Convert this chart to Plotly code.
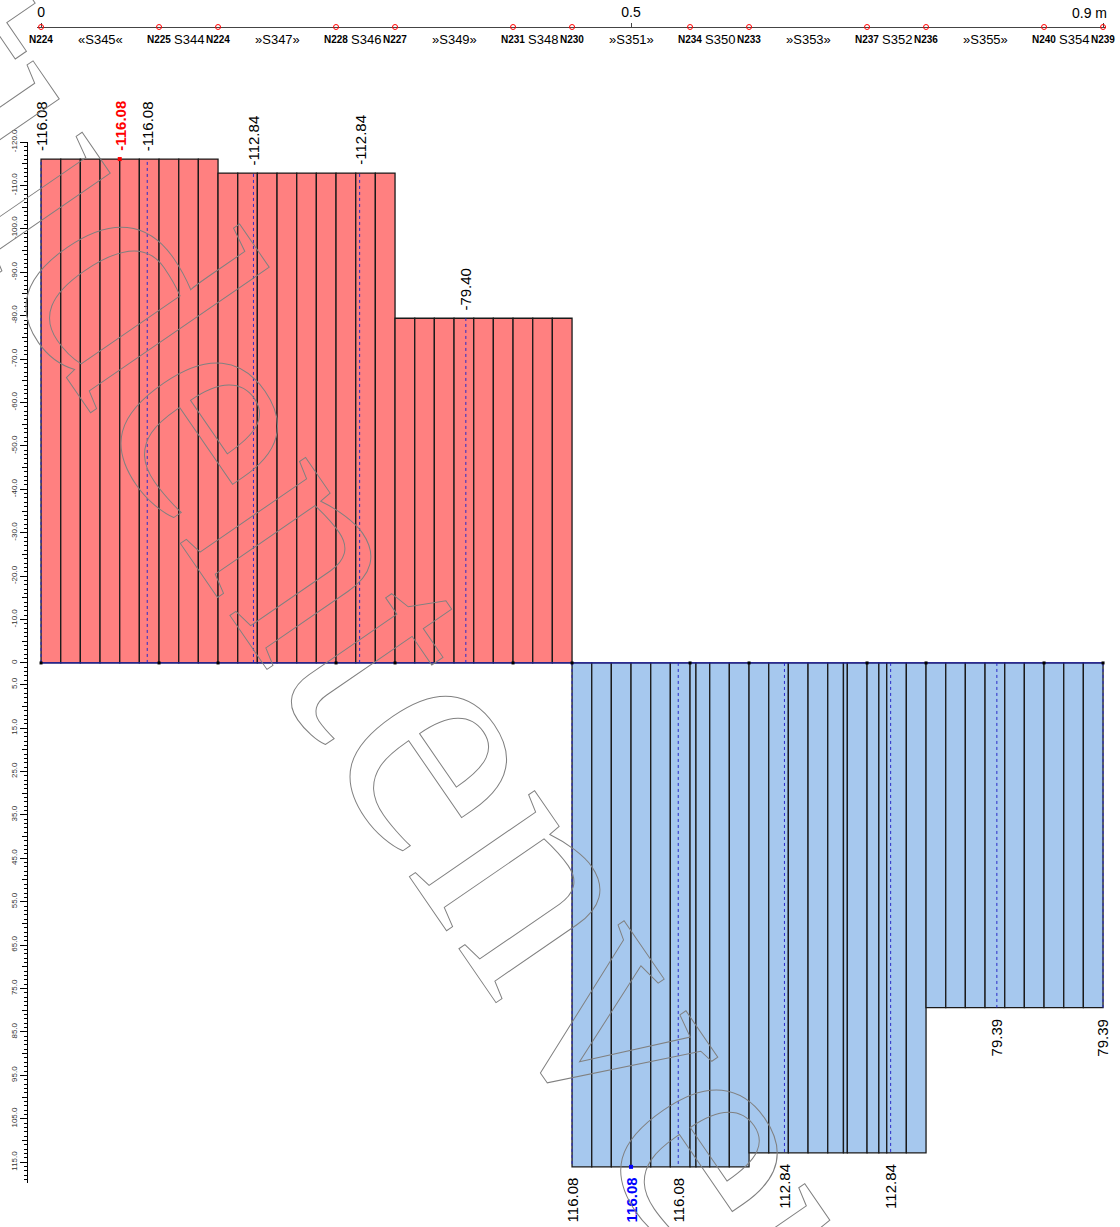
import plotly.graph_objects as go

# ---------- data ----------

# nodes along the member (m) and their names
node_x = [0, 0.10, 0.15, 0.25, 0.30, 0.40, 0.45, 0.55, 0.60, 0.70, 0.75, 0.85, 0.90]
node_names = ["N224", "N225", "N224", "N228", "N227", "N231", "N230",
              "N234", "N233", "N237", "N236", "N240", "N239"]

# member segments between the nodes
seg_mid = [0.05, 0.125, 0.2, 0.275, 0.35, 0.425, 0.5, 0.575, 0.65, 0.725, 0.8, 0.875]
seg_names = ["«S345«", "S344", "»S347»", "S346", "»S349»", "S348",
             "»S351»", "S350", "»S353»", "S352", "»S355»", "S354"]

# result strips (edges in m) and their values
strip_edges = [0, 0.0167, 0.0333, 0.05, 0.0667, 0.0833, 0.10, 0.1167, 0.1333, 0.15,
               0.1667, 0.1833, 0.20, 0.2167, 0.2333, 0.25, 0.2667, 0.2833, 0.30,
               0.3167, 0.3333, 0.35, 0.3667, 0.3833, 0.40, 0.4167, 0.4333, 0.45,
               0.4667, 0.4833, 0.50, 0.5167, 0.5333, 0.55, 0.555, 0.5667, 0.5833, 0.60,
               0.6167, 0.6333, 0.65, 0.6667, 0.68, 0.6833, 0.70, 0.71, 0.7167, 0.7333, 0.75,
               0.7667, 0.7833, 0.80, 0.8167, 0.8333, 0.85, 0.8667, 0.8833, 0.90]
strip_vals = [-116.08, -116.08, -116.08, -116.08, -116.08, -116.08, -116.08, -116.08, -116.08,
              -112.84, -112.84, -112.84, -112.84, -112.84, -112.84, -112.84, -112.84, -112.84,
              -79.40, -79.40, -79.40, -79.40, -79.40, -79.40, -79.40, -79.40, -79.40,
              116.08, 116.08, 116.08, 116.08, 116.08, 116.08, 116.08, 116.08, 116.08, 116.08,
              112.84, 112.84, 112.84, 112.84, 112.84, 112.84, 112.84, 112.84, 112.84, 112.84,
              112.84,
              79.39, 79.39, 79.39, 79.39, 79.39, 79.39, 79.39, 79.39, 79.39]

# labelled result points
res_x = [0, 0.09, 0.18, 0.27, 0.36, 0.45, 0.54, 0.63, 0.72, 0.81, 0.90]
res_v = [-116.08, -116.08, -112.84, -112.84, -79.40, 116.08, 116.08, 112.84, 112.84, 79.39, 79.39]

# extremes
min_x, min_v = 0.0667, -116.08
max_x, max_v = 0.50, 116.08

# left scale
ytick_vals = [-120, -110, -100, -90, -80, -70, -60, -50, -40, -30, -20, -10, 0,
              5, 15, 25, 35, 45, 55, 65, 75, 85, 95, 105, 115]
ytick_text = ["-120.0", "-110.0", "-100.0", "-90.0", "-80.0", "-70.0", "-60.0", "-50.0",
              "-40.0", "-30.0", "-20.0", "-10.0", "0", "5.0", "15.0", "25.0", "35.0",
              "45.0", "55.0", "65.0", "75.0", "85.0", "95.0", "105.0", "115.0"]
ytick_mid = [-115, -105, -95, -85, -75, -65, -55, -45, -35, -25, -15, -5,
             10, 20, 30, 40, 50, 60, 70, 80, 90, 100, 110]

watermark = "Studentenversion"

RED = "#FF8080"
BLUE = "#A6C8EE"
FONT = "Liberation Sans, Arial, sans-serif"

# ---------- figure ----------

centers = [(a + b) / 2 for a, b in zip(strip_edges[:-1], strip_edges[1:])]
widths = [b - a for a, b in zip(strip_edges[:-1], strip_edges[1:])]
colors = [RED if v < 0 else BLUE for v in strip_vals]

fig = go.Figure()

fig.add_trace(go.Bar(x=centers, y=strip_vals, width=widths,
                     marker=dict(color=colors, line=dict(color="#1a1a1a", width=1.3)),
                     hoverinfo="skip"))

# dotted lines at the result points
dx, dy = [], []
for x, v in zip(res_x, res_v):
    dx += [x, x, None]
    dy += [0, v, None]
fig.add_trace(go.Scatter(x=dx, y=dy, mode="lines",
                         line=dict(color="#2a2ac8", width=1, dash="dot"),
                         hoverinfo="skip"))

# base line with node dots
fig.add_trace(go.Scatter(x=[node_x[0], node_x[-1]], y=[0, 0], mode="lines",
                         line=dict(color="#1f1fa8", width=1.3), hoverinfo="skip"))
fig.add_trace(go.Scatter(x=node_x, y=[0] * len(node_x), mode="markers",
                         marker=dict(symbol="square", size=3, color="black"),
                         hoverinfo="skip", cliponaxis=False))

# extreme dots
fig.add_trace(go.Scatter(x=[min_x], y=[min_v], mode="markers",
                         marker=dict(symbol="square", size=4, color="red"),
                         hoverinfo="skip", cliponaxis=False))
fig.add_trace(go.Scatter(x=[max_x], y=[max_v], mode="markers",
                         marker=dict(symbol="square", size=4, color="blue"),
                         hoverinfo="skip", cliponaxis=False))

# ruler nodes
fig.add_trace(go.Scatter(x=node_x, y=[1] * len(node_x), yaxis="y3", mode="markers",
                         marker=dict(symbol="circle-open", size=5, color="red",
                                     line=dict(width=1)),
                         hoverinfo="skip", cliponaxis=False))

# dummy trace so the medium tick axis is drawn
fig.add_trace(go.Scatter(x=[0], y=[0], yaxis="y2", mode="markers",
                         marker=dict(opacity=0), hoverinfo="skip"))

# value labels
for x, v in zip(res_x, res_v):
    fig.add_annotation(x=x, y=v, text=f"{v:.2f}", textangle=-90, showarrow=False,
                       xanchor="center", yanchor="bottom" if v < 0 else "top",
                       yshift=6 if v < 0 else -9,
                       font=dict(size=15, color="black", family=FONT))
fig.add_annotation(x=min_x, y=min_v, text=f"{min_v:.2f}", textangle=-90, showarrow=False,
                   xanchor="center", yanchor="bottom", yshift=6,
                   font=dict(size=15, color="red", family=FONT, weight="bold"))
fig.add_annotation(x=max_x, y=max_v, text=f"{max_v:.2f}", textangle=-90, showarrow=False,
                   xanchor="center", yanchor="top", yshift=-9,
                   font=dict(size=15, color="blue", family=FONT, weight="bold"))

# ruler labels
for x, n in zip(node_x, node_names):
    fig.add_annotation(x=x, y=1, xref="x", yref="paper", text=n, showarrow=False,
                       xanchor="center", yanchor="top", yshift=-5,
                       font=dict(size=10, color="black", family=FONT, weight="bold"))
for x, s in zip(seg_mid, seg_names):
    fig.add_annotation(x=x, y=1, xref="x", yref="paper", text=s, showarrow=False,
                       xanchor="center", yanchor="top", yshift=-3,
                       font=dict(size=13, color="black", family=FONT))
fig.add_annotation(x=node_x[-1], y=1, xref="x", yref="paper", text="0.9 m", showarrow=False,
                   xanchor="right", yanchor="bottom", xshift=6, yshift=4,
                   font=dict(size=14, color="black", family=FONT))

# watermark (outlined by the post script)
fig.add_annotation(x=0.382, y=31.4, text=watermark, textangle=55.5, showarrow=False,
                   xanchor="center", yanchor="middle",
                   font=dict(size=331, color="#808080", family="Liberation Serif, serif"))

fig.update_layout(
    template="none",
    width=1120, height=1227,
    margin=dict(l=27, r=14, t=27, b=44, pad=0),
    paper_bgcolor="white", plot_bgcolor="white",
    showlegend=False,
    font=dict(family=FONT, color="black"),
    xaxis=dict(range=[-0.003, 0.9025], domain=[0.00973, 1], side="top",
               anchor="free", position=1, automargin=False,
               showline=True, linecolor="#444", linewidth=1,
               ticks="outside", ticklen=4, tickcolor="#444",
               tickvals=[0, 0.5, 0.9], ticktext=["0", "0.5", ""],
               tickfont=dict(size=14, color="black"),
               showgrid=False, zeroline=False),
    yaxis=dict(range=[119.8, -120], domain=[0, 0.9005], anchor="free", position=0,
               automargin=False, showline=True, linecolor="black", linewidth=1,
               ticks="outside", ticklen=7, tickcolor="black",
               tickvals=ytick_vals, ticktext=ytick_text, tickangle=-90,
               tickfont=dict(size=8, color="#333"),
               minor=dict(dtick=1, tick0=0, ticks="outside", ticklen=3,
                          tickcolor="black", showgrid=False),
               showgrid=False, zeroline=False),
    yaxis2=dict(range=[119.8, -120], domain=[0, 0.9005], overlaying="y",
                anchor="free", position=0, automargin=False,
                showline=False, ticks="outside", ticklen=5, tickcolor="black",
                tickvals=ytick_mid, showticklabels=False,
                showgrid=False, zeroline=False),
    yaxis3=dict(range=[0, 1], domain=[0.9005, 1], visible=False, anchor="x"),
)

post = """
document.body.style.margin = '0';
var gd = document.getElementById('{plot_id}');
var outline = function(){
  gd.querySelectorAll('text.annotation-text').forEach(function(t){
    if (t.textContent === 'Studentenversion') {
      t.style.fill = 'none';
      t.style.stroke = '#808080';
      t.style.strokeWidth = '1px';
    }
  });
};
outline();
gd.on('plotly_afterplot', outline);
"""

fig.write_html("out.html", post_script=post, config={"displayModeBar": False})
